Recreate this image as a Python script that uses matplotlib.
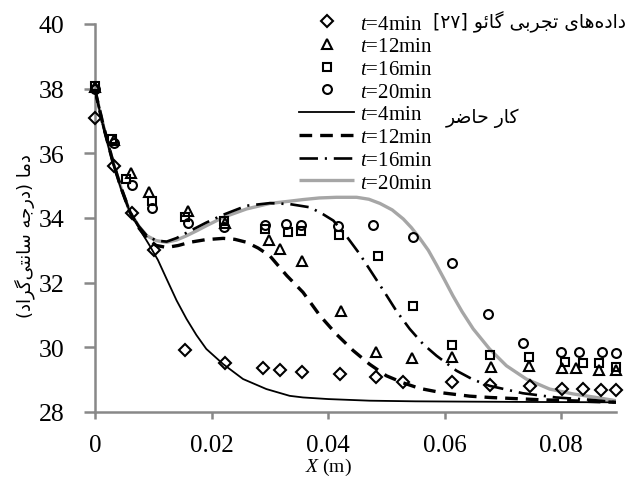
import matplotlib
matplotlib.use('Agg')
import matplotlib.pyplot as plt

plt.rcParams['font.family'] = ['Liberation Serif', 'DejaVu Sans']
plt.rcParams['mathtext.fontset'] = 'custom'
plt.rcParams['mathtext.rm'] = 'Liberation Serif'
plt.rcParams['mathtext.it'] = 'Liberation Serif:italic'

# ---------------- data ----------------
# experimental (Gao [27])
exp4_x = [0, 0.0033, 0.0063, 0.0101, 0.0155, 0.0223, 0.0289, 0.0318, 0.0355, 0.042, 0.0482, 0.0529,
          0.0613, 0.0677, 0.0746, 0.0801, 0.0837, 0.0869, 0.0894]
exp4_y = [37.1, 35.6, 34.15, 33.0, 29.92, 29.5, 29.35, 29.3, 29.23, 29.16, 29.07, 28.94,
          28.94, 28.85, 28.79, 28.71, 28.71, 28.68, 28.68]

exp12_x = [0, 0.0033, 0.0062, 0.0092, 0.0159, 0.0223, 0.0299, 0.0317, 0.0355, 0.0422, 0.0482, 0.0544,
           0.0613, 0.068, 0.0744, 0.0802, 0.0826, 0.0865, 0.0894]
exp12_y = [38.05, 36.4, 35.39, 34.8, 34.23, 33.85, 33.33, 33.04, 32.68, 31.11, 29.85, 29.67,
           29.69, 29.38, 29.43, 29.35, 29.36, 29.3, 29.3]

exp16_x = [0, 0.003, 0.0054, 0.0097, 0.0154, 0.0222, 0.0291, 0.0331, 0.0354, 0.0419, 0.0485, 0.0546,
           0.0612, 0.0677, 0.0745, 0.0806, 0.0837, 0.0865, 0.0894]
exp16_y = [38.07, 36.44, 35.21, 34.54, 34.02, 33.92, 33.66, 33.58, 33.61, 33.47, 32.82, 31.29,
           30.07, 29.76, 29.71, 29.56, 29.52, 29.52, 29.38]

exp20_x = [0, 0.0033, 0.0064, 0.0098, 0.016, 0.0222, 0.0291, 0.0327, 0.0354, 0.0417, 0.0477, 0.0546,
           0.0613, 0.0674, 0.0734, 0.0799, 0.083, 0.087, 0.0894]
exp20_y = [38.0, 36.32, 35.02, 34.31, 33.85, 33.73, 33.78, 33.82, 33.78, 33.74, 33.79, 33.4,
           32.61, 31.03, 30.13, 29.87, 29.87, 29.87, 29.82]

# present work (model)
m4_x = [0, 0.0015, 0.0031, 0.0045, 0.006, 0.0075, 0.0094, 0.0108, 0.0123, 0.014, 0.0157, 0.0174,
        0.0191, 0.022, 0.0254, 0.0294, 0.0334, 0.0357, 0.04, 0.0471, 0.055, 0.0643, 0.075, 0.0894]
m4_y = [37.95, 36.75, 35.67, 34.88, 34.18, 33.7, 33.14, 32.7, 32.11, 31.45, 30.88, 30.38,
        29.95, 29.48, 29.02, 28.71, 28.5, 28.45, 28.4, 28.35, 28.33, 28.32, 28.31, 28.3]

m12_x = [0, 0.0015, 0.0031, 0.0045, 0.006, 0.0075, 0.009, 0.0105, 0.0123, 0.0143, 0.0163, 0.019,
         0.022, 0.024, 0.026, 0.028, 0.03, 0.0329, 0.0357, 0.0386, 0.0414, 0.0443, 0.0471, 0.05,
         0.0529, 0.0557, 0.0597, 0.0643, 0.0677, 0.0763, 0.0894]
m12_y = [37.95, 36.8, 35.72, 34.92, 34.18, 33.7, 33.35, 33.15, 33.09, 33.15, 33.25, 33.33,
         33.37, 33.34, 33.25, 33.07, 32.83, 32.22, 31.7, 30.98, 30.41, 29.9, 29.48, 29.12,
         28.9, 28.73, 28.59, 28.49, 28.45, 28.38, 28.3]

m16_x = [0, 0.0015, 0.0031, 0.0045, 0.006, 0.0075, 0.0089, 0.0105, 0.0123, 0.014, 0.0163, 0.019,
         0.022, 0.026, 0.03, 0.0334, 0.0369, 0.0391, 0.0409, 0.0431, 0.0454, 0.0471, 0.0497, 0.0517,
         0.054, 0.0563, 0.0586, 0.062, 0.0649, 0.0677, 0.0734, 0.0791, 0.0849, 0.0894]
m16_y = [37.95, 36.8, 35.72, 34.92, 34.18, 33.75, 33.45, 33.3, 33.27, 33.38, 33.6, 33.85,
         34.1, 34.38, 34.46, 34.43, 34.33, 34.12, 33.92, 33.45, 32.89, 32.42, 31.7, 31.13,
         30.57, 30.1, 29.74, 29.28, 29.0, 28.81, 28.58, 28.45, 28.38, 28.3]

m20_x = [0, 0.0015, 0.0031, 0.0045, 0.006, 0.0075, 0.0089, 0.0105, 0.0123, 0.014, 0.0157, 0.0174,
         0.0191, 0.022, 0.026, 0.03, 0.0334, 0.0357, 0.0385, 0.0414, 0.0449, 0.047, 0.0489, 0.051,
         0.0529, 0.0543, 0.0557, 0.0572, 0.0586, 0.06, 0.0614, 0.063, 0.0649, 0.0677, 0.0706,
         0.074, 0.078, 0.082, 0.086, 0.0894]
m20_y = [37.95, 36.8, 35.72, 34.92, 34.18, 33.75, 33.45, 33.3, 33.25, 33.32, 33.45, 33.6,
         33.76, 34.02, 34.28, 34.45, 34.52, 34.57, 34.62, 34.64, 34.64, 34.58, 34.45, 34.25,
         33.97, 33.7, 33.38, 33.0, 32.55, 32.08, 31.6, 31.1, 30.57, 29.95, 29.43,
         29.02, 28.71, 28.56, 28.45, 28.35]

labels = ['$t$=4min', '$t$=12min', '$t$=16min', '$t$=20min']
x_ticks = [0, 0.02, 0.04, 0.06, 0.08]
x_ticklabels = ['0', '0.02', '0.04', '0.06', '0.08']
y_ticks = [28, 30, 32, 34, 36, 38, 40]

exp_label_fa = 'داده\u200cهای تجربی گائو [۲۷]'
model_label_fa = 'کار حاضر'
ylabel_fa = 'دما (درجه سانتی\u200cگراد)'

# ---------------- simple Persian shaping (visual order) ----------------
FORMS = {
    '\u0627': ('\uFE8D', '\uFE8E', None, None),
    '\u0628': ('\uFE8F', '\uFE90', '\uFE91', '\uFE92'),
    '\u062A': ('\uFE95', '\uFE96', '\uFE97', '\uFE98'),
    '\u062C': ('\uFE9D', '\uFE9E', '\uFE9F', '\uFEA0'),
    '\u062D': ('\uFEA1', '\uFEA2', '\uFEA3', '\uFEA4'),
    '\u062F': ('\uFEA9', '\uFEAA', None, None),
    '\u0631': ('\uFEAD', '\uFEAE', None, None),
    '\u0633': ('\uFEB1', '\uFEB2', '\uFEB3', '\uFEB4'),
    '\u0636': ('\uFEBD', '\uFEBE', '\uFEBF', '\uFEC0'),
    '\u0645': ('\uFEE1', '\uFEE2', '\uFEE3', '\uFEE4'),
    '\u0646': ('\uFEE5', '\uFEE6', '\uFEE7', '\uFEE8'),
    '\u0647': ('\uFEE9', '\uFEEA', '\uFEEB', '\uFEEC'),
    '\u0648': ('\uFEED', '\uFEEE', None, None),
    '\u0626': ('\uFE89', '\uFE8A', '\uFE8B', '\uFE8C'),
    '\u06CC': ('\uFBFC', '\uFBFD', '\uFBFE', '\uFBFF'),
    '\u06A9': ('\uFB8E', '\uFB8F', '\uFB90', '\uFB91'),
    '\u06AF': ('\uFB92', '\uFB93', '\uFB94', '\uFB95'),
}
MIRROR = {'(': ')', ')': '(', '[': ']', ']': '['}


def is_digit(c):
    return c.isdigit()


def to_visual(s):
    out = []
    n = len(s)
    for i, c in enumerate(s):
        if c in FORMS:
            prev = s[i - 1] if i > 0 else None
            nxt = s[i + 1] if i + 1 < n else None
            jp = prev in FORMS and FORMS[prev][2] is not None
            jn = FORMS[c][2] is not None and nxt in FORMS
            iso, fin, ini, med = FORMS[c]
            if jp and jn:
                out.append(med)
            elif jp:
                out.append(fin)
            elif jn:
                out.append(ini)
            else:
                out.append(iso)
        elif c == '\u200c':
            continue
        else:
            out.append(c)
    rev = [MIRROR.get(c, c) for c in reversed(out)]
    # restore left-to-right order of digit runs
    res = []
    i = 0
    while i < len(rev):
        if is_digit(rev[i]):
            j = i
            while j < len(rev) and is_digit(rev[j]):
                j += 1
            res.extend(reversed(rev[i:j]))
            i = j
        else:
            res.append(rev[i])
            i += 1
    return ''.join(res)


# ---------------- figure ----------------
W, H = 627, 481
fig = plt.figure(figsize=(W / 100, H / 100), dpi=100)
ax = fig.add_axes([95 / W, 1 - 413 / H, (616 - 95) / W, (413 - 25) / H])

gray = '#a6a6a6'
axis_gray = '#888888'

# model curves
l20, = ax.plot(m20_x, m20_y, color=gray, lw=2.4, zorder=2, solid_capstyle='butt')
l4, = ax.plot(m4_x, m4_y, color='black', lw=1.3, zorder=3)
l12, = ax.plot(m12_x, m12_y, color='black', lw=2.4, zorder=3, dashes=(3.8, 2.4))
l16, = ax.plot(m16_x, m16_y, color='black', lw=1.9, zorder=3, dashes=(7.0, 2.6, 0.8, 2.6))

mk = dict(color='black', linestyle='none', fillstyle='none', mew=1.5, zorder=4, clip_on=False)
p4, = ax.plot(exp4_x, exp4_y, marker='D', ms=6.4, **mk)
p12, = ax.plot(exp12_x, exp12_y, marker='^', ms=7.8, **mk)
p16, = ax.plot(exp16_x, exp16_y, marker='s', ms=6.4, **mk)
p20, = ax.plot(exp20_x, exp20_y, marker='o', ms=6.4, **mk)

ax.set_xlim(0, 0.0894)
ax.set_ylim(28, 40)
ax.set_xticks(x_ticks)
ax.set_xticklabels(x_ticklabels)
ax.set_yticks(y_ticks)

for s in ['top', 'right']:
    ax.spines[s].set_visible(False)
for s in ['left', 'bottom']:
    ax.spines[s].set_color(axis_gray)
    ax.spines[s].set_linewidth(1.8)
ax.tick_params(axis='x', direction='out', length=5, width=1.8, color=axis_gray,
               labelsize=18, pad=11)
ax.tick_params(axis='y', direction='out', length=8, width=1.8, color=axis_gray,
               labelsize=18.5, pad=14)

ax.set_xlabel('$X$ (m)', fontsize=14, labelpad=0)
ax.xaxis.set_label_coords((328 - 95) / (616 - 95), -(457 - 413) / (413 - 25))

handles = [p4, p12, p16, p20, l4, l12, l16, l20]
leg = ax.legend(handles, labels + labels, loc='upper left',
                bbox_to_anchor=(299 / W, 1 - 15 / H), bbox_transform=fig.transFigure,
                frameon=False, fontsize=15, handlelength=2.65, handletextpad=0.3,
                labelspacing=0.15, borderpad=0, borderaxespad=0)

fig.text(626 / W, 1 - 22 / H, to_visual(exp_label_fa), family=['DejaVu Sans'],
         fontsize=13.5, ha='right', va='center')
fig.text(446 / W, 1 - 118 / H, to_visual(model_label_fa), family=['DejaVu Sans'],
         fontsize=13.5, ha='left', va='center')
fig.text(25 / W, 1 - 236 / H, to_visual(ylabel_fa), family=['DejaVu Sans'],
         fontsize=13, ha='center', va='center', rotation=90)

fig.savefig('out.png', dpi=100)
